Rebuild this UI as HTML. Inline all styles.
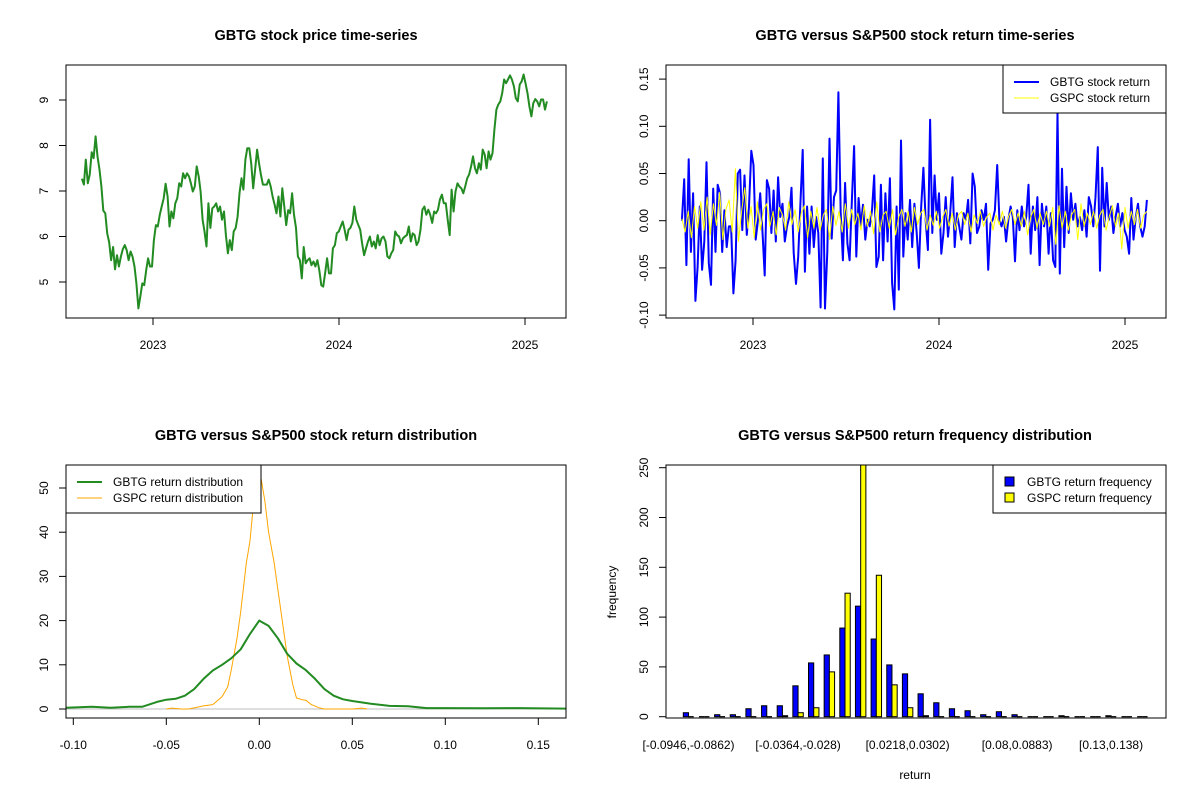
<!DOCTYPE html>
<html><head><meta charset="utf-8"><style>
html,body{margin:0;padding:0;background:#fff;}
svg{display:block;font-family:"Liberation Sans",Arial,sans-serif;}
.t{font-weight:bold;font-size:14.5px;text-anchor:middle;}
.lab{font-size:12px;}
</style></head><body>
<svg id="c" width="1200" height="800" viewBox="0 0 1200 800"></svg>
<script>
// ---------- data ----------
const priceStart = 2022.618, priceEnd = 2025.118;
const gbtgPrice = [7.27,7.14,7.69,7.17,7.36,7.85,7.72,8.2,7.76,7.47,7.10,6.57,6.51,6.07,5.87,5.48,5.77,5.28,5.59,5.34,5.56,5.72,5.81,5.70,5.48,5.67,5.56,5.34,4.97,4.42,4.68,4.97,4.93,5.26,5.52,5.34,5.34,5.92,6.25,6.22,6.48,6.66,6.84,7.16,6.88,6.22,6.55,6.40,6.73,6.84,7.17,7.10,7.39,7.28,7.39,7.32,7.17,6.99,7.10,7.54,7.32,6.99,6.37,6.11,5.78,6.73,6.19,6.62,6.66,6.73,6.55,6.66,6.37,6.55,6.03,5.63,5.92,5.70,6.11,6.19,6.44,6.95,7.28,7.03,7.69,7.94,7.94,7.61,7.06,7.47,7.91,7.61,7.36,7.14,7.14,7.14,7.25,7.10,6.88,6.70,6.51,6.88,6.44,7.06,6.66,6.25,6.58,6.51,6.95,6.48,6.19,5.56,5.48,5.08,5.77,5.41,5.48,5.52,5.37,5.45,5.34,5.48,5.26,4.93,4.90,5.19,5.52,5.19,5.19,5.74,5.81,6.07,6.11,6.22,6.33,6.15,5.92,6.15,6.19,6.30,6.66,6.37,6.26,6.15,5.85,5.59,5.74,5.89,6.00,5.78,5.89,5.74,6.03,5.81,5.96,6.00,5.89,5.56,5.52,5.63,5.70,6.11,6.03,6.00,5.85,5.96,6.00,6.03,6.22,5.89,6.07,6.03,5.81,5.89,6.15,6.59,6.66,6.48,6.59,6.48,6.30,6.55,6.51,6.59,6.81,6.92,6.73,6.73,6.37,6.03,7.03,6.55,6.99,7.17,7.10,7.06,6.95,7.10,7.28,7.36,7.54,7.76,7.50,7.39,7.61,7.47,7.91,7.80,7.50,7.87,7.69,7.83,8.35,8.79,8.90,8.97,9.15,9.45,9.37,9.45,9.54,9.45,9.30,9.04,8.97,9.34,9.41,9.56,9.37,9.15,8.86,8.64,8.93,9.02,8.97,8.86,9.01,9.01,8.79,8.97];
const gbtgReturn = [0.000,0.044,-0.047,0.065,-0.033,0.029,-0.085,-0.049,0.015,-0.052,-0.022,0.062,-0.045,-0.068,0.034,-0.033,0.038,0.029,-0.033,0.011,-0.028,-0.006,-0.006,-0.077,-0.042,0.050,0.054,-0.010,0.048,-0.015,0.015,0.074,0.059,-0.020,0.001,0.029,-0.010,-0.058,0.043,0.034,-0.013,0.032,-0.022,0.046,0.004,0.018,-0.022,-0.006,0.004,0.035,-0.034,-0.067,-0.038,0.018,0.075,-0.054,0.015,-0.035,0.015,-0.028,0.004,-0.013,-0.092,0.066,-0.093,-0.033,0.087,-0.019,0.025,0.032,0.136,0.008,-0.042,0.040,-0.024,-0.042,0.022,0.079,-0.038,0.024,-0.006,0.017,-0.020,0.001,-0.006,0.011,0.048,-0.049,-0.038,0.038,-0.042,0.029,-0.022,0.045,-0.066,-0.094,0.015,-0.073,0.085,-0.038,0.008,-0.020,0.022,-0.028,0.018,-0.013,-0.050,0.015,0.056,0.001,-0.031,0.107,-0.013,0.048,0.001,0.029,-0.035,-0.013,0.025,-0.017,0.008,0.046,-0.028,0.008,-0.006,-0.020,0.008,0.001,0.022,-0.024,0.050,0.036,-0.013,-0.006,0.011,0.001,0.018,-0.052,-0.003,0.001,0.011,0.059,0.001,-0.006,0.004,-0.022,0.001,0.015,0.004,-0.043,0.011,-0.010,0.015,-0.006,0.004,0.038,-0.035,0.015,-0.010,0.025,-0.047,0.018,-0.006,0.015,-0.035,0.008,-0.042,-0.049,0.114,-0.056,0.055,-0.028,0.036,-0.013,0.029,0.001,0.018,-0.006,0.004,-0.010,0.011,-0.017,0.025,0.015,-0.006,0.025,0.078,-0.053,0.056,-0.006,0.040,0.001,0.015,-0.013,0.004,0.018,-0.006,0.008,-0.010,-0.017,-0.035,0.024,-0.020,0.004,0.018,-0.006,-0.017,-0.006,0.022];
const gspcReturn = [0.002,-0.012,0.010,-0.018,0.015,-0.008,0.020,-0.010,0.025,-0.015,0.018,-0.005,0.030,-0.020,0.012,0.022,-0.012,0.055,-0.022,0.010,0.035,-0.008,0.015,-0.018,0.020,-0.010,0.012,0.018,-0.006,0.010,-0.015,0.014,0.006,-0.010,0.020,-0.004,0.012,-0.012,0.008,0.016,-0.018,0.010,-0.008,0.014,-0.010,0.006,0.012,-0.020,0.015,-0.005,0.010,-0.012,0.018,-0.008,0.012,-0.004,0.008,-0.010,0.016,-0.006,0.010,-0.014,0.020,-0.012,0.006,0.010,-0.008,0.012,-0.015,0.004,0.012,-0.006,0.010,-0.012,0.014,-0.004,0.008,0.012,-0.010,0.006,-0.005,0.010,-0.008,0.004,0.012,-0.006,0.008,-0.010,0.006,0.010,-0.004,0.008,-0.012,0.006,-0.003,0.010,-0.006,0.004,0.008,-0.010,0.006,-0.004,0.010,-0.008,0.005,0.012,-0.004,0.008,-0.006,0.010,-0.015,0.004,0.012,-0.008,0.008,-0.004,0.010,-0.006,0.014,-0.025,0.016,-0.008,0.010,-0.010,0.006,0.012,-0.020,0.018,-0.006,0.008,-0.004,0.010,-0.008,0.006,0.012,-0.010,0.004,0.016,-0.006,0.008,-0.030,0.014,-0.008,0.010,-0.004,0.012,-0.008,0.006,0.010];
const yearTicks = [2023,2024,2025];
const priceTicks = [5,6,7,8,9];
const returnTicks = [-0.10,-0.05,0.00,0.05,0.10,0.15];
const returnTickLabels = ["-0.10","-0.05","0.00","0.05","0.10","0.15"];
const densX = [-0.104,-0.09,-0.08,-0.07,-0.063,-0.055,-0.05,-0.045,-0.04,-0.035,-0.03,-0.025,-0.02,-0.015,-0.01,-0.005,0,0.005,0.01,0.015,0.02,0.025,0.03,0.035,0.04,0.045,0.05,0.06,0.07,0.08,0.09,0.10,0.12,0.14,0.165];
const gbtgDens = [0.3,0.5,0.3,0.5,0.5,1.6,2.1,2.3,3.0,4.5,6.8,8.7,10.0,11.5,13.5,17,20,18.8,16,12.5,10.3,8.8,6.8,4.5,3.0,2.2,1.8,1.2,0.7,0.6,0.2,0.2,0.15,0.2,0.1];
const gspcDensX = [-0.05,-0.047,-0.042,-0.038,-0.03,-0.025,-0.02,-0.017,-0.015,-0.012,-0.01,-0.007,-0.005,-0.003,-0.001,0.001,0.003,0.005,0.008,0.01,0.013,0.015,0.018,0.02,0.023,0.025,0.028,0.032,0.035,0.05,0.055,0.058];
const gspcDens = [0,0.2,0,0,0.7,1.0,2.8,5,9,16,22,33,38,47,52,52,47,40,33,27,18,12,5.5,2.5,2.1,2.0,1.0,0.3,0,0,0.2,0];
const densTicks = [-0.10,-0.05,0.00,0.05,0.10,0.15];
const densYTicks = [0,10,20,30,40,50];
const gbtgFreq = [4,0,2,2,8,11,11,31,54,62,89,111,78,52,43,23,14,8,6,2,5,2,0,0,1,0,0,1,0,0];
const gspcFreq = [0,0,0,0,0,0,1,4,9,45,124,262,142,32,9,1,0,0,0,0,0,0,0,0,0,0,0,0,0,0];
const binLabels = ["[-0.0946,-0.0862)","[-0.0364,-0.028)","[0.0218,0.0302)","[0.08,0.0883)","[0.13,0.138)"];
const binLabelIdx = [0,7,14,21,27];
const freqTicks = [0,50,100,150,200,250];

// ---------- helpers ----------
const svg = document.getElementById('c');
const NS = 'http://www.w3.org/2000/svg';
function mk(tag, attrs, parent){ const e=document.createElementNS(NS,tag); for(const k in attrs) e.setAttribute(k,attrs[k]); (parent||svg).appendChild(e); return e; }
function txt(s, x, y, cls, extra){ const e=mk('text',Object.assign({x:x,y:y,class:cls||'lab'},extra||{})); e.textContent=s; return e; }

const xYear = y => 153 + (y-2023)*186;
const yPrice = p => 282 - (p-5)*45.5;
const yRet = r => 220.7 - r*944;
const xDens = v => 259.3 + v*1860;
const yDens = d => 709 - d*4.42;
const yFreq = f => 716.7 - f*(251/252);

function box(x,y,w,h,name){ const r=mk('rect',{x:x,y:y,width:w,height:h,fill:'none',stroke:'#000','stroke-width':1});
 
  return r; }
function yTick(x0,y,label,name){ mk('line',{x1:x0-7,y1:y,x2:x0,y2:y,stroke:'#000'});
 const t=txt(label, x0-18, y, 'lab', {transform:`rotate(-90 ${x0-18} ${y})`,'text-anchor':'middle'});
 
  }
function xTick(x,y0,label,name){ mk('line',{x1:x,y1:y0,x2:x,y2:y0+7,stroke:'#000'});
 const t=txt(label, x, y0+31, 'lab', {'text-anchor':'middle'});
 
  }
function path(pts,color,w,name){ const p=mk('path',{d:'M'+pts.map(q=>q[0].toFixed(1)+','+q[1].toFixed(1)).join('L'),fill:'none',stroke:color,'stroke-width':w,'stroke-linejoin':'round'});
 
  return p; }

// ---------- panel 1 ----------
let t = txt('GBTG stock price time-series',316,40,'t');


box(66,65,500,253,'price-plot-frame');
priceTicks.forEach(v=>yTick(66,yPrice(v),String(v),'price-y-tick'));
yearTicks.forEach(v=>xTick(xYear(v),318,String(v),'price-x-tick'));
const nP = gbtgPrice.length;
path(gbtgPrice.map((p,i)=>[xYear(priceStart+(priceEnd-priceStart)*i/(nP-1)), yPrice(p)]),'#228b22',2,'gbtg-price-line');

// ---------- panel 2 ----------
t = txt('GBTG versus S&P500 stock return time-series',915,40,'t');


returnTicks.forEach((v,i)=>yTick(666,yRet(v),returnTickLabels[i],'return-y-tick'));
yearTicks.forEach(v=>xTick(xYear(v)+600,318,String(v),'return-x-tick'));
const nR = gbtgReturn.length, nS = gspcReturn.length;
path(gbtgReturn.map((r,i)=>[600+xYear(priceStart+(priceEnd-priceStart)*i/(nR-1)), yRet(r)]),'#0000ff',2,'gbtg-return-line');
path(gspcReturn.map((r,i)=>[600+xYear(priceStart+(priceEnd-priceStart)*i/(nS-1)), yRet(r)]),'#ffff00',1,'gspc-return-line');
box(666,65,500,253,'return-plot-frame');
let lg = mk('g',{});


mk('rect',{x:1003,y:65,width:163,height:48,fill:'#fff',stroke:'#000'},lg);
mk('line',{x1:1014,y1:82,x2:1039,y2:82,stroke:'#0000ff','stroke-width':2},lg);
mk('line',{x1:1014,y1:98,x2:1039,y2:98,stroke:'#ffff00','stroke-width':1},lg);
txt('GBTG stock return',1050,86,'lab');
txt('GSPC stock return',1050,102,'lab');

// ---------- panel 3 ----------
t = txt('GBTG versus S&P500 stock return distribution',316,440,'t');


densYTicks.forEach(v=>yTick(66,yDens(v),String(v),'density-y-tick'));
densTicks.forEach((v,i)=>xTick(xDens(v),718,returnTickLabels[i],'density-x-tick'));
mk('line',{x1:66,y1:yDens(0),x2:566,y2:yDens(0),stroke:'#bebebe'});
path(gspcDensX.map((v,i)=>[xDens(v),yDens(gspcDens[i])]),'#ffa500',1,'gspc-density-line');
path(densX.map((v,i)=>[Math.min(566,Math.max(66,xDens(v))),yDens(gbtgDens[i])]),'#228b22',2,'gbtg-density-line');
box(66,465,500,253,'density-plot-frame');
lg = mk('g',{});


mk('rect',{x:66,y:465,width:195,height:48,fill:'#fff',stroke:'#000'},lg);
mk('line',{x1:77,y1:482,x2:102,y2:482,stroke:'#228b22','stroke-width':2},lg);
mk('line',{x1:77,y1:498,x2:102,y2:498,stroke:'#ffa500','stroke-width':1},lg);
txt('GBTG return distribution',113,486,'lab');
txt('GSPC return distribution',113,502,'lab');

// ---------- panel 4 ----------
t = txt('GBTG versus S&P500 return frequency distribution',915,440,'t');


freqTicks.forEach(v=>yTick(666,yFreq(v),String(v),'frequency-y-tick'));
const gw = 15.65, bw = 5.217, g0 = 683.3;
function drawBar(x, f, color){
  const top = Math.max(465,yFreq(f));
  if (f > 0) {
    const r = mk('rect',{x:x,y:top,width:bw,height:yFreq(0)-top,fill:color,stroke:'#000','stroke-width':1});
    
    
  } else {
    const l = mk('line',{x1:x,y1:yFreq(0),x2:x+bw,y2:yFreq(0),stroke:'#000','stroke-width':1.2});
    
    
  }
}
gbtgFreq.forEach((f,i)=>drawBar(g0+i*gw, f, '#0000ff'));
gspcFreq.forEach((f,i)=>drawBar(g0+i*gw+bw, f, '#ffff00'));
binLabels.forEach((s,k)=>{
  const e = txt(s, g0+binLabelIdx[k]*gw+bw, 749, 'lab', {'text-anchor':'middle'});
  
  
});
box(666,465,500,253,'frequency-plot-frame');
t = txt('frequency',616,592,'lab',{transform:'rotate(-90 616 592)','text-anchor':'middle'});


t = txt('return',915,779,'lab',{'text-anchor':'middle'});


lg = mk('g',{});


mk('rect',{x:993,y:465,width:173,height:48,fill:'#fff',stroke:'#000'},lg);
mk('rect',{x:1005,y:477,width:9,height:9,fill:'#0000ff',stroke:'#000'},lg);
mk('rect',{x:1005,y:493,width:9,height:9,fill:'#ffff00',stroke:'#000'},lg);
txt('GBTG return frequency',1027,486,'lab');
txt('GSPC return frequency',1027,502,'lab');
</script>
</body></html>
